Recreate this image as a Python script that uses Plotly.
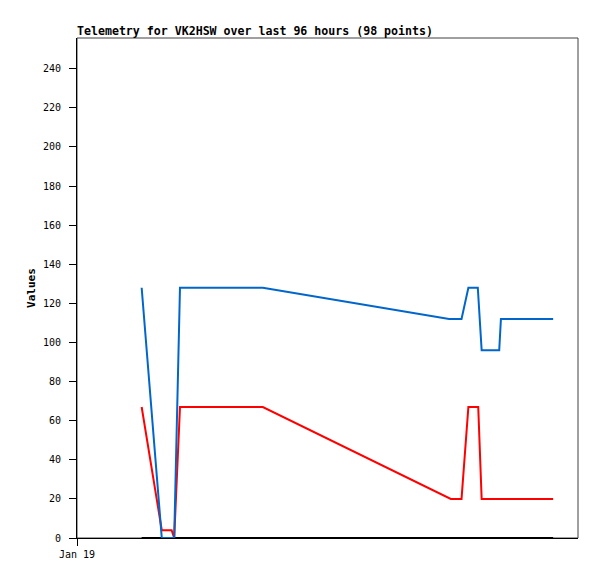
import plotly.graph_objects as go

# hours since Jan 19 00:00
blue_x = [15.1, 19.8, 22.7, 24.05, 43.4, 86.9, 89.8, 91.4, 93.6, 94.5, 98.6, 99.0, 111.2]
blue_y = [128, 0, 0, 128, 128, 112, 112, 128, 128, 96, 96, 112, 112]

red_x = [15.1, 19.8, 22.1, 22.7, 24.05, 43.4, 87.3, 89.8, 91.4, 93.7, 94.5, 111.2]
red_y = [67, 4, 4, 0, 67, 67, 20, 20, 67, 67, 20, 20]

black_x = [15.1, 111.2]
black_y = [0, 0]

y_ticks = [0, 20, 40, 60, 80, 100, 120, 140, 160, 180, 200, 220, 240]
x_tickvals = [0]
x_ticktext = ["Jan 19"]

FONT = "DejaVu Sans Mono"

fig = go.Figure()
fig.add_trace(go.Scatter(x=black_x, y=black_y, mode="lines",
                         line=dict(color="#000000", width=2), showlegend=False))
fig.add_trace(go.Scatter(x=red_x, y=red_y, mode="lines",
                         line=dict(color="#ff0000", width=2), showlegend=False))
fig.add_trace(go.Scatter(x=blue_x, y=blue_y, mode="lines",
                         line=dict(color="#0066cc", width=2), showlegend=False))

fig.update_layout(
    width=589, height=571,
    margin=dict(l=69, r=19, t=30, b=41),
    paper_bgcolor="white", plot_bgcolor="white",
    font=dict(family=FONT, size=10, color="#000000"),
    shapes=[dict(type="rect", xref="paper", yref="paper", x0=0, x1=1, y0=0, y1=1,
                 line=dict(color="#404040", width=1), layer="below")],
    annotations=[dict(text="<b>Telemetry for VK2HSW over last 96 hours (98 points)</b>",
                      xref="paper", yref="paper", x=0, y=1, xanchor="left", yanchor="bottom",
                      xshift=-2, yshift=-2, showarrow=False,
                      font=dict(family=FONT, size=11.6, color="#000000"))],
    xaxis=dict(range=[0, 117], tickmode="array", tickvals=x_tickvals, ticktext=x_ticktext,
               showgrid=False, zeroline=False, showline=True, linecolor="#000000", linewidth=1,
               ticks="outside", ticklen=7, tickcolor="#000000", tickwidth=1,
               tickfont=dict(family=FONT, size=10)),
    yaxis=dict(range=[0, 255.7], tickmode="array", tickvals=y_ticks,
               showgrid=False, zeroline=False, showline=True, linecolor="#000000", linewidth=1,
               ticks="outside", ticklen=7, tickcolor="#000000", tickwidth=1,
               ticklabelstandoff=6,
               tickfont=dict(family=FONT, size=10),
               title=dict(text="<b>Values</b>", font=dict(family=FONT, size=11), standoff=5)),
)

fig.write_html("out.html")
